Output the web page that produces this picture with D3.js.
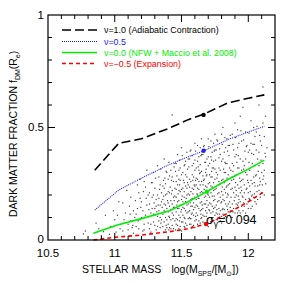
<!DOCTYPE html>
<html><head><meta charset="utf-8">
<script src="https://cdn.jsdelivr.net/npm/d3@7/dist/d3.min.js"></script>
<style>body{margin:0;background:#fff}svg{display:block}text{font-family:"Liberation Sans",Arial,sans-serif}</style>
</head><body><svg id="c" width="283" height="283"></svg>
<script>
const xDomain = [10.5, 12.2];
const yDomain = [0, 1];
const xTickLabels = [10.5, 11, 11.5, 12];
const yTickLabels = [0, 0.5, 1];
const lineX = [10.85, 11.03, 11.2, 11.4, 11.55, 11.67, 11.85, 12.0, 12.12];
const nu10 = [0.31, 0.43, 0.45, 0.495, 0.535, 0.56, 0.61, 0.63, 0.645];
const nu05 = [0.133, 0.222, 0.275, 0.333, 0.37, 0.397, 0.447, 0.48, 0.505];
const greenX = [10.84, 11.02, 11.2, 11.41, 11.55, 11.69, 11.85, 12.0, 12.12];
const nu00 = [0.03, 0.067, 0.095, 0.13, 0.17, 0.215, 0.27, 0.315, 0.355];
const redX = [10.84, 11.0, 11.2, 11.41, 11.55, 11.69, 11.85, 12.0, 12.12];
const nuM05 = [0.0, 0.012, 0.022, 0.037, 0.05, 0.072, 0.12, 0.17, 0.215];
const markerX = [11.665, 11.665, 11.69, 11.685];
const markerY = [0.556, 0.397, 0.215, 0.071];
const seriesNames = ["\u03bd=1.0 (Adiabatic Contraction)", "\u03bd=0.5", "\u03bd=0.0 (NFW + Maccio et al. 2008)", "\u03bd=\u22120.5 (Expansion)"];
const seriesColors = ["#000000", "#2020ff", "#00ee00", "#ff0000"];
const sigmaValue = "0.094";
const galaxies = [
[10.78,0.04],[10.86,0.075],[10.9,0.02],[10.93,0.11],[10.88,0.05],[10.765,0.027],[10.915,0.037],
[10.97,0.06],[11.0,0.09],[11.03,0.17],[11.01,0.035],[10.99,0.13],[11.04,0.05],[11.02,0.11],[10.96,0.025],
[11.06,0.04],[11.08,0.12],[11.1,0.07],[11.12,0.19],[11.14,0.03],[11.07,0.09],[11.11,0.15],[11.13,0.055],[11.09,0.22],[11.15,0.1],[11.06,0.165],[11.12,0.085],[11.14,0.13],[11.1,0.045],
[11.16,0.06],[11.17,0.14],[11.18,0.21],[11.19,0.09],[11.2,0.17],[11.21,0.04],[11.22,0.26],[11.23,0.11],[11.24,0.31],[11.25,0.075],[11.16,0.115],[11.18,0.05],[11.19,0.185],[11.21,0.13],[11.22,0.07],[11.23,0.235],[11.24,0.155],[11.2,0.1],[11.17,0.245],[11.25,0.2],[11.22,0.045],[11.19,0.27],
[11.26,0.05],[11.27,0.12],[11.28,0.19],[11.29,0.08],[11.3,0.23],[11.31,0.15],[11.32,0.06],[11.33,0.28],[11.34,0.1],[11.35,0.17],
[11.26,0.21],[11.27,0.07],[11.28,0.14],[11.29,0.3],[11.3,0.11],[11.31,0.045],[11.32,0.2],[11.33,0.13],[11.34,0.245],[11.35,0.09],
[11.26,0.16],[11.28,0.255],[11.29,0.115],[11.3,0.065],[11.31,0.18],[11.32,0.33],[11.33,0.085],[11.34,0.155],[11.35,0.21],[11.27,0.035],
[11.3,0.14],[11.32,0.105],[11.34,0.055],[11.29,0.2],[11.33,0.185],
[11.36,0.06],[11.37,0.13],[11.38,0.2],[11.39,0.09],[11.4,0.27],[11.41,0.15],[11.42,0.05],[11.43,0.22],[11.44,0.11],[11.45,0.34],
[11.36,0.18],[11.37,0.08],[11.38,0.25],[11.39,0.14],[11.4,0.07],[11.41,0.21],[11.42,0.31],[11.43,0.12],[11.44,0.19],[11.45,0.085],
[11.36,0.115],[11.37,0.23],[11.38,0.045],[11.39,0.3],[11.4,0.165],[11.41,0.1],[11.42,0.175],[11.43,0.065],[11.44,0.26],[11.45,0.145],
[11.36,0.24],[11.37,0.16],[11.38,0.1],[11.39,0.205],[11.4,0.125],[11.41,0.285],[11.42,0.09],[11.43,0.16],[11.44,0.05],[11.45,0.23],
[11.37,0.36],[11.39,0.055],[11.41,0.055],[11.43,0.28],[11.45,0.195],[11.38,0.155],[11.4,0.215],[11.42,0.135],[11.44,0.145],[11.43,0.556],
[11.46,0.07],[11.47,0.14],[11.48,0.22],[11.49,0.1],[11.5,0.29],[11.51,0.17],[11.52,0.06],[11.53,0.24],[11.54,0.12],[11.55,0.36],
[11.46,0.19],[11.47,0.09],[11.48,0.27],[11.49,0.155],[11.5,0.08],[11.51,0.23],[11.52,0.33],[11.53,0.13],[11.54,0.2],[11.55,0.095],
[11.46,0.125],[11.47,0.245],[11.48,0.05],[11.49,0.32],[11.5,0.18],[11.51,0.11],[11.52,0.19],[11.53,0.075],[11.54,0.28],[11.55,0.16],
[11.46,0.26],[11.47,0.17],[11.48,0.11],[11.49,0.215],[11.5,0.135],[11.51,0.3],[11.52,0.1],[11.53,0.17],[11.54,0.065],[11.55,0.245],
[11.46,0.34],[11.47,0.065],[11.48,0.175],[11.49,0.265],[11.5,0.225],[11.51,0.145],[11.52,0.255],[11.53,0.35],[11.54,0.155],[11.55,0.205],
[11.47,0.38],[11.49,0.06],[11.51,0.08],[11.53,0.29],[11.55,0.125],[11.48,0.31],[11.5,0.04],[11.52,0.14],[11.54,0.23],[11.46,0.095],
[11.5,0.41],[11.52,0.215],[11.48,0.14],[11.54,0.39],[11.46,0.225],
[11.56,0.07],[11.57,0.15],[11.58,0.23],[11.59,0.11],[11.6,0.31],[11.61,0.18],[11.62,0.07],[11.63,0.26],[11.64,0.13],[11.65,0.38],
[11.56,0.2],[11.57,0.095],[11.58,0.29],[11.59,0.165],[11.6,0.085],[11.61,0.245],[11.62,0.35],[11.63,0.14],[11.64,0.21],[11.65,0.1],
[11.56,0.13],[11.57,0.26],[11.58,0.06],[11.59,0.34],[11.6,0.19],[11.61,0.12],[11.62,0.2],[11.63,0.085],[11.64,0.3],[11.65,0.17],
[11.56,0.27],[11.57,0.18],[11.58,0.12],[11.59,0.225],[11.6,0.145],[11.61,0.32],[11.62,0.11],[11.63,0.185],[11.64,0.075],[11.65,0.26],
[11.56,0.36],[11.57,0.07],[11.58,0.185],[11.59,0.28],[11.6,0.24],[11.61,0.155],[11.62,0.27],[11.63,0.37],[11.64,0.165],[11.65,0.215],
[11.57,0.4],[11.59,0.065],[11.61,0.09],[11.63,0.31],[11.65,0.135],[11.58,0.33],[11.6,0.055],[11.62,0.15],[11.64,0.245],[11.56,0.1],
[11.6,0.43],[11.62,0.23],[11.58,0.15],[11.64,0.41],[11.56,0.235],[11.57,0.215],[11.59,0.135],[11.61,0.275],[11.63,0.225],[11.65,0.305],
[11.6,0.355],[11.62,0.42],[11.64,0.335],[11.58,0.375],[11.65,0.45],
[11.66,0.08],[11.67,0.16],[11.68,0.24],[11.69,0.12],[11.7,0.33],[11.71,0.19],[11.72,0.08],[11.73,0.28],[11.74,0.14],[11.75,0.4],
[11.66,0.21],[11.67,0.105],[11.68,0.3],[11.69,0.175],[11.7,0.095],[11.71,0.255],[11.72,0.37],[11.73,0.15],[11.74,0.22],[11.75,0.11],
[11.66,0.14],[11.67,0.27],[11.68,0.065],[11.69,0.36],[11.7,0.2],[11.71,0.13],[11.72,0.21],[11.73,0.095],[11.74,0.32],[11.75,0.18],
[11.66,0.285],[11.67,0.19],[11.68,0.13],[11.69,0.235],[11.7,0.155],[11.71,0.34],[11.72,0.12],[11.73,0.195],[11.74,0.085],[11.75,0.27],
[11.66,0.38],[11.67,0.075],[11.68,0.195],[11.69,0.29],[11.7,0.25],[11.71,0.165],[11.72,0.28],[11.73,0.39],[11.74,0.175],[11.75,0.225],
[11.67,0.42],[11.69,0.07],[11.71,0.1],[11.73,0.32],[11.75,0.145],[11.68,0.345],[11.7,0.06],[11.72,0.16],[11.74,0.255],[11.66,0.11],
[11.7,0.45],[11.72,0.24],[11.68,0.16],[11.74,0.43],[11.66,0.245],[11.67,0.225],[11.69,0.145],[11.71,0.29],[11.73,0.235],[11.75,0.315],
[11.7,0.37],[11.72,0.44],[11.74,0.35],[11.68,0.4],[11.75,0.47],
[11.76,0.09],[11.77,0.17],[11.78,0.26],[11.79,0.13],[11.8,0.35],[11.81,0.2],[11.82,0.1],[11.83,0.3],[11.84,0.15],[11.85,0.42],
[11.76,0.23],[11.77,0.115],[11.78,0.32],[11.79,0.19],[11.8,0.105],[11.81,0.27],[11.82,0.39],[11.83,0.16],[11.84,0.24],[11.85,0.125],
[11.76,0.155],[11.77,0.29],[11.78,0.08],[11.79,0.38],[11.8,0.215],[11.81,0.14],[11.82,0.225],[11.83,0.105],[11.84,0.34],[11.85,0.2],
[11.76,0.3],[11.77,0.205],[11.78,0.14],[11.79,0.25],[11.8,0.17],[11.81,0.36],[11.82,0.135],[11.83,0.21],[11.84,0.1],[11.85,0.29],
[11.76,0.4],[11.77,0.09],[11.78,0.21],[11.79,0.31],[11.8,0.265],[11.81,0.18],[11.82,0.3],[11.83,0.41],[11.84,0.19],[11.85,0.245],
[11.77,0.44],[11.79,0.085],[11.81,0.115],[11.83,0.34],[11.85,0.16],[11.78,0.365],[11.8,0.075],[11.82,0.175],[11.84,0.275],[11.76,0.12],
[11.8,0.47],[11.82,0.255],[11.78,0.175],[11.84,0.45],[11.81,0.5],
[11.86,0.11],[11.87,0.19],[11.88,0.28],[11.89,0.14],[11.9,0.37],[11.91,0.22],[11.92,0.12],[11.93,0.32],[11.94,0.17],[11.95,0.44],
[11.86,0.25],[11.87,0.13],[11.88,0.34],[11.89,0.21],[11.9,0.12],[11.91,0.29],[11.92,0.41],[11.93,0.18],[11.94,0.26],[11.95,0.15],
[11.86,0.17],[11.87,0.31],[11.88,0.1],[11.89,0.4],[11.9,0.235],[11.91,0.16],[11.92,0.245],[11.93,0.13],[11.94,0.36],[11.95,0.22],
[11.86,0.32],[11.87,0.225],[11.88,0.16],[11.89,0.27],[11.9,0.19],[11.91,0.38],[11.92,0.155],[11.93,0.23],[11.94,0.12],[11.95,0.31],
[11.86,0.42],[11.87,0.1],[11.88,0.23],[11.89,0.33],[11.9,0.285],[11.91,0.2],[11.92,0.32],[11.93,0.43],[11.94,0.21],[11.95,0.265],
[11.88,0.47],[11.9,0.52],[11.92,0.49],[11.94,0.55],[11.96,0.59],
[11.96,0.13],[11.97,0.21],[11.98,0.3],[11.99,0.16],[12.0,0.39],[12.01,0.24],[12.02,0.14],[12.03,0.34],[12.04,0.19],[12.05,0.46],
[11.96,0.27],[11.97,0.15],[11.98,0.36],[11.99,0.23],[12.0,0.14],[12.01,0.31],[12.02,0.43],[12.03,0.2],[12.04,0.28],[12.05,0.17],
[11.96,0.19],[11.97,0.33],[11.98,0.12],[11.99,0.42],[12.0,0.255],[12.01,0.18],[12.02,0.265],[12.03,0.15],[12.04,0.38],[12.05,0.24],
[11.96,0.35],[11.97,0.245],[11.98,0.18],[11.99,0.29],[12.0,0.21],[12.01,0.4],[12.02,0.175],[12.03,0.25],[12.04,0.5],[12.05,0.33],
[11.98,0.48],[12.02,0.53],
[12.06,0.16],[12.07,0.24],[12.08,0.33],[12.09,0.19],[12.1,0.42],[12.11,0.27],[12.12,0.2],[12.13,0.37],[12.06,0.29],[12.07,0.18],
[12.08,0.39],[12.09,0.26],[12.1,0.21],[12.11,0.34],[12.12,0.46],[12.13,0.25],[12.06,0.48],[12.07,0.36],[12.08,0.22],[12.09,0.44],
[12.1,0.3],[12.11,0.52],[12.12,0.31],[12.13,0.55],[12.11,0.68],[12.08,0.6],[12.14,0.41],[12.06,0.4],
[11.315,0.125],[11.335,0.225],[11.355,0.145],[11.375,0.275],[11.395,0.175],[11.415,0.235],[11.435,0.095],[11.455,0.305],[11.475,0.205],[11.495,0.125],
[11.515,0.265],[11.535,0.185],[11.555,0.325],[11.575,0.115],[11.595,0.245],[11.615,0.205],[11.635,0.295],[11.655,0.155],[11.675,0.345],[11.695,0.205],
[11.715,0.225],[11.735,0.125],[11.755,0.355],[11.775,0.245],[11.795,0.165],[11.815,0.315],[11.835,0.235],[11.855,0.375],[11.875,0.265],[11.895,0.175],
[11.915,0.345],[11.935,0.275],[11.955,0.195],[11.975,0.395],[11.995,0.265],[12.015,0.215],[12.035,0.425],[12.055,0.285],[12.075,0.305],[12.095,0.355],
[11.345,0.075],[11.365,0.195],[11.385,0.065],[11.405,0.105],[11.425,0.265],[11.445,0.175],[11.465,0.155],[11.485,0.245],[11.505,0.195],[11.525,0.095],
[11.545,0.315],[11.565,0.165],[11.585,0.205],[11.605,0.265],[11.625,0.185],[11.645,0.115],[11.665,0.265],[11.685,0.315],[11.705,0.135],[11.725,0.305],
[11.745,0.195],[11.765,0.275],[11.785,0.115],[11.805,0.235],[11.825,0.345],[11.845,0.205],[11.865,0.145],[11.885,0.305],[11.905,0.255],[11.925,0.195],
[11.945,0.235],[11.965,0.315],[11.985,0.225],[12.005,0.345],[12.025,0.195],[12.045,0.255],[12.065,0.215],[12.085,0.275],[12.105,0.245],[12.125,0.385],
[11.235,0.185],[11.255,0.135],[11.275,0.255],[11.295,0.165],[11.215,0.215],[11.195,0.145],[11.175,0.085],[11.155,0.175],[11.135,0.065],[11.115,0.115],
[11.305,0.275],[11.325,0.155],[11.345,0.315],[11.365,0.265],[11.385,0.305],[11.405,0.345],[11.425,0.205],[11.445,0.325],[11.465,0.285],[11.485,0.355],
[11.505,0.375],[11.525,0.335],[11.545,0.255],[11.565,0.395],[11.585,0.265],[11.605,0.395],[11.625,0.325],[11.645,0.375],[11.665,0.415],[11.685,0.285],
[11.705,0.415],[11.725,0.355],[11.745,0.395],[11.765,0.445],[11.785,0.405],[11.805,0.425],[11.825,0.455],[11.845,0.395],[11.865,0.465],[11.885,0.425],
[11.905,0.455],[11.925,0.375],[11.945,0.485],[11.965,0.445],[11.985,0.415],[12.005,0.475],[12.025,0.385],[12.045,0.425],[12.065,0.505],[12.085,0.465],
[11.455,0.045],[11.485,0.085],[11.525,0.055],[11.565,0.095],[11.605,0.105],[11.645,0.095],[11.685,0.105],[11.725,0.095],[11.765,0.135],[11.805,0.135],
[11.845,0.135],[11.885,0.125],[11.925,0.165],[11.965,0.165],[12.005,0.185],[12.045,0.205],[12.085,0.245],[12.115,0.285],[11.405,0.045],[11.365,0.035]
];

const svg = d3.select("#c");
const L = 48, R = 275, T = 15, B = 240;
const x = d3.scaleLinear().domain(xDomain).range([L, R]);
const y = d3.scaleLinear().domain(yDomain).range([B, T]);

// scatter
svg.append("g").selectAll("rect").data(galaxies).join("rect")
  .attr("x", d => x(d[0]) - 0.6).attr("y", d => y(d[1]) - 0.6)
  .attr("width", 1.2).attr("height", 1.2).attr("fill", "#444");

// lines
const mk = (xs, ys) => xs.map((v, i) => [v, ys[i]]);
const line = d3.line().x(d => x(d[0])).y(d => y(d[1]));
const series = [
  {pts: mk(lineX, nu10), color: seriesColors[0], dash: "9,4", w: 1.6},
  {pts: mk(lineX, nu05), color: seriesColors[1], dash: "1,1", w: 1.1},
  {pts: mk(greenX, nu00), color: seriesColors[2], dash: null, w: 1.6},
  {pts: mk(redX, nuM05), color: seriesColors[3], dash: "4,3", w: 1.6}
];
series.forEach(s => {
  svg.append("path").attr("d", line(s.pts)).attr("fill", "none")
    .attr("stroke", s.color).attr("stroke-width", s.w)
    .attr("stroke-dasharray", s.dash);
});
markerX.forEach((mx, i) => {
  svg.append("circle").attr("cx", x(mx)).attr("cy", y(markerY[i])).attr("r", 2.2)
    .attr("fill", seriesColors[i]);
});

// frame
svg.append("rect").attr("x", L).attr("y", T).attr("width", R - L).attr("height", B - T)
  .attr("fill", "none").attr("stroke", "#000").attr("stroke-width", 1.2);

// ticks
const xMinor = d3.range(10.6, 12.2, 0.1);
const yMinor = d3.range(0.1, 1.0, 0.1);
const isMajor = v => Math.abs(v * 2 - Math.round(v * 2)) < 1e-6;
const tg = svg.append("g").attr("stroke", "#000").attr("stroke-width", 1);
xMinor.forEach(v => {
  const len = isMajor(v) ? 7 : 4;
  tg.append("line").attr("x1", x(v)).attr("x2", x(v)).attr("y1", B).attr("y2", B - len);
  tg.append("line").attr("x1", x(v)).attr("x2", x(v)).attr("y1", T).attr("y2", T + len);
});
yMinor.forEach(v => {
  const len = isMajor(v) ? 7 : 4;
  tg.append("line").attr("y1", y(v)).attr("y2", y(v)).attr("x1", L).attr("x2", L + len);
  tg.append("line").attr("y1", y(v)).attr("y2", y(v)).attr("x1", R).attr("x2", R - len);
});

// tick labels
svg.append("g").selectAll("text").data(xTickLabels).join("text")
  .attr("x", d => x(d)).attr("y", 257).attr("text-anchor", "middle")
  .attr("font-size", 11.5).attr("fill", "#000").text(d => d);
svg.append("g").selectAll("text").data(yTickLabels).join("text")
  .attr("x", 44).attr("y", d => y(d) + (d === 0 ? 2.5 : 3.5)).attr("text-anchor", "end")
  .attr("font-size", 11.5).attr("fill", "#000").text(d => d);

// axis titles
const xt = svg.append("text").attr("x", 82).attr("y", 273).attr("font-size", 10.5).attr("fill", "#000");
xt.append("tspan").text("STELLAR MASS");
xt.append("tspan").attr("dx", 10).text("log(M");
xt.append("tspan").attr("font-size", 7).attr("dy", 2.5).text("SPS");
xt.append("tspan").attr("dy", -2.5).text("/[M");
xt.append("tspan").attr("font-size", 7).attr("dy", 2.5).text("\u2299");
xt.append("tspan").attr("dy", -2.5).text("])");

const yt = svg.append("text").attr("transform", "translate(17,217) rotate(-90)")
  .attr("font-size", 10.5).attr("fill", "#000");
yt.append("tspan").text("DARK MATTER FRACTION f");
yt.append("tspan").attr("font-size", 7).attr("dy", 2.5).text("DM");
yt.append("tspan").attr("dy", -2.5).text("(R");
yt.append("tspan").attr("font-size", 7).attr("dy", 2.5).text("e");
yt.append("tspan").attr("dy", -2.5).text(")");

// legend
const legY = [30, 41.5, 52.5, 63.5];
series.forEach((s, i) => {
  svg.append("line").attr("x1", 62).attr("x2", 97).attr("y1", legY[i]).attr("y2", legY[i])
    .attr("stroke", s.color).attr("stroke-width", s.w).attr("stroke-dasharray", s.dash);
  svg.append("text").attr("x", 104).attr("y", legY[i] + 3.2).attr("font-size", 8.9)
    .attr("fill", s.color).text(seriesNames[i]);
});

// sigma annotation
const st = svg.append("text").attr("x", 206).attr("y", 224).attr("font-size", 12.5).attr("fill", "#000");
st.append("tspan").text("\u03c3");
st.append("tspan").attr("font-size", 8.5).attr("dy", 3).text("\u03b3");
st.append("tspan").attr("dy", -3).text("=" + sigmaValue);
</script></body></html>
